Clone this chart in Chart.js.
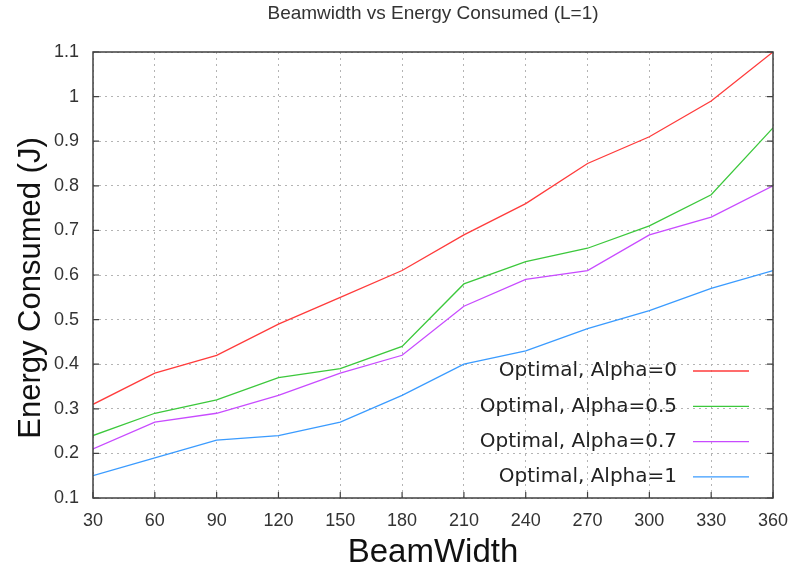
<!DOCTYPE html>
<html>
<head>
<meta charset="utf-8">
<script src="https://cdn.jsdelivr.net/npm/chart.js@4.4.1/dist/chart.umd.min.js"></script>
<style>
  html, body { margin: 0; padding: 0; background: #fff; }
  #wrap { width: 789px; height: 575px; }
</style>
</head>
<body>
<div id="wrap"><canvas id="beamwidth-chart" width="789" height="575"></canvas></div>
<script>
'use strict';

const beamWidths = [30, 60, 90, 120, 150, 180, 210, 240, 270, 300, 330, 360];
const alpha0 = [0.31, 0.38, 0.42, 0.49, 0.55, 0.61, 0.69, 0.76, 0.85, 0.91, 0.99, 1.10];
const alpha05 = [0.24, 0.29, 0.32, 0.37, 0.39, 0.44, 0.58, 0.63, 0.66, 0.71, 0.78, 0.93];
const alpha07 = [0.21, 0.27, 0.29, 0.33, 0.38, 0.42, 0.53, 0.59, 0.61, 0.69, 0.73, 0.80];
const alpha1 = [0.15, 0.19, 0.23, 0.24, 0.27, 0.33, 0.40, 0.43, 0.48, 0.52, 0.57, 0.61];
const seriesLabels = ['Optimal, Alpha=0', 'Optimal, Alpha=0.5', 'Optimal, Alpha=0.7', 'Optimal, Alpha=1'];
const seriesColors = ['#ff3b3b', '#3cc83c', '#c84bff', '#3a9bff'];

const chartTitle = 'Beamwidth vs Energy Consumed (L=1)';
const xTitle = 'BeamWidth';
const yTitle = 'Energy Consumed (J)';

const plainFont = "'Liberation Sans', Arial, sans-serif";

function toPoints(values) {
    return values.map(function (v, i) {
        return {x: beamWidths[i], y: v};
    });
}

// titles, frame, inward ticks and legend, drawn gnuplot style
const gnuplotDecor = {
    id: 'gnuplotDecor',
    afterDatasetsDraw: function (chart) {
        const ctx = chart.ctx;
        const area = chart.chartArea;
        const xs = chart.scales.x;
        const ys = chart.scales.y;
        const midX = (area.left + area.right) / 2;
        ctx.save();

        ctx.strokeStyle = '#404040';
        ctx.lineWidth = 1.5;
        ctx.strokeRect(area.left, area.top, area.right - area.left, area.bottom - area.top);

        ctx.lineWidth = 1.2;
        ctx.beginPath();
        ys.ticks.forEach(function (t) {
            const y = ys.getPixelForValue(t.value);
            ctx.moveTo(area.left, y); ctx.lineTo(area.left + 6, y);
            ctx.moveTo(area.right, y); ctx.lineTo(area.right - 6, y);
        });
        xs.ticks.forEach(function (t) {
            const x = xs.getPixelForValue(t.value);
            ctx.moveTo(x, area.bottom); ctx.lineTo(x, area.bottom - 6);
        });
        ctx.stroke();

        ctx.textAlign = 'center';
        ctx.textBaseline = 'middle';
        ctx.fillStyle = '#333';
        ctx.font = '19px ' + plainFont;
        ctx.fillText(chartTitle, midX, 14);

        ctx.fillStyle = '#111';
        ctx.font = '33px ' + plainFont;
        ctx.fillText(xTitle, midX, 553);

        ctx.save();
        ctx.font = '31px ' + plainFont;
        ctx.translate(31, 288);
        ctx.rotate(-Math.PI / 2);
        ctx.fillText(yTitle, 0, 0);
        ctx.restore();

        ctx.font = '20px "DejaVu Sans", sans-serif';
        ctx.textAlign = 'right';
        chart.data.datasets.forEach(function (ds, i) {
            const y = 371 + i * 35.3;
            ctx.fillStyle = '#222';
            ctx.fillText(ds.label, 677, y);
            ctx.strokeStyle = ds.borderColor;
            ctx.lineWidth = 1.3;
            ctx.beginPath();
            ctx.moveTo(693, y);
            ctx.lineTo(749, y);
            ctx.stroke();
        });
        ctx.restore();
    }
};

const ctx = document.getElementById('beamwidth-chart').getContext('2d');

window.beamChart = new Chart(ctx, {
    type: 'line',
    data: {
        datasets: [alpha0, alpha05, alpha07, alpha1].map(function (values, i) {
            return {
                label: seriesLabels[i],
                data: toPoints(values),
                borderColor: seriesColors[i],
                backgroundColor: seriesColors[i],
                borderWidth: 1.3,
                pointRadius: 0,
                tension: 0,
            };
        }),
    },
    options: {
        responsive: false,
        animation: false,
        layout: {
            padding: {left: 0, right: 16, top: 52, bottom: 0},
        },
        plugins: {
            legend: {display: false},
            title: {display: false},
            tooltip: {enabled: false},
        },
        scales: {
            x: {
                type: 'linear',
                min: 30,
                max: 360,
                ticks: {
                    stepSize: 30,
                    color: '#333',
                    font: {family: plainFont, size: 18},
                    padding: 12,
                    maxRotation: 0,
                },
                grid: {color: '#b4b4b4', lineWidth: 1, drawTicks: false},
                border: {display: false, dash: [2, 4]},
                afterFit: function (scale) {
                    scale.height = 77;
                    scale.paddingLeft = 0;
                    scale.paddingRight = 0;
                },
            },
            y: {
                min: 0.1,
                max: 1.1,
                ticks: {
                    stepSize: 0.1,
                    color: '#333',
                    font: {family: plainFont, size: 18},
                    padding: 14,
                    callback: function (v) {
                        return Number(v.toFixed(1)).toString();
                    },
                },
                grid: {color: '#b4b4b4', lineWidth: 1, drawTicks: false},
                border: {display: false, dash: [2, 4]},
                afterFit: function (scale) {
                    scale.width = 93;
                    scale.paddingTop = 0;
                    scale.paddingBottom = 0;
                },
            },
        },
    },
    plugins: [gnuplotDecor],
});
</script>
</body>
</html>
